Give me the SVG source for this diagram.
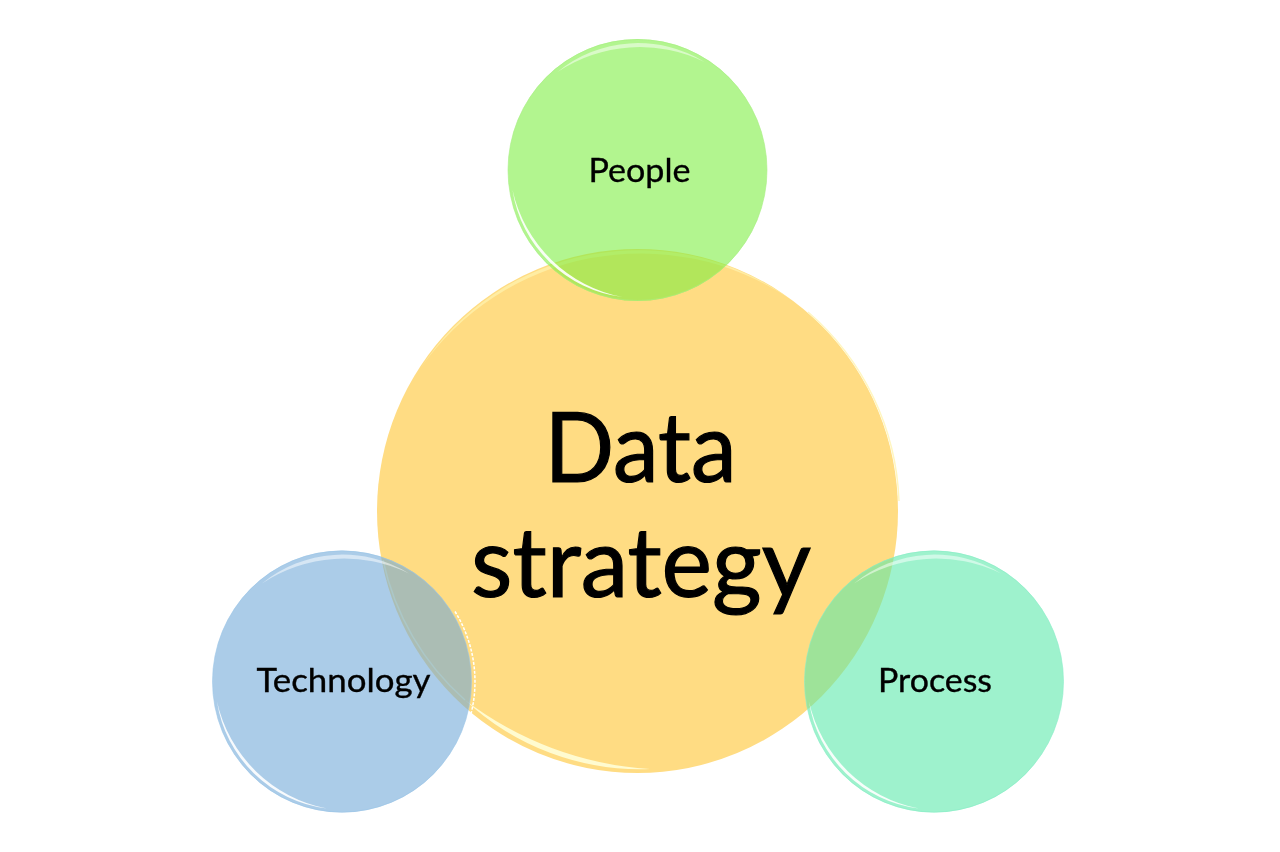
<svg xmlns="http://www.w3.org/2000/svg" width="1280" height="852" viewBox="0 0 1280 852">
<defs>
<filter id="soft" x="-10%" y="-10%" width="120%" height="120%"><feGaussianBlur stdDeviation="0.6"/></filter>
<path id="low" d="M-125 20A127 127 0 0 0 -15 127A140 140 0 0 1 -125 20Z"/>
<path id="top" d="M-80 -98A126.500 126.500 0 0 1 67 -108A148 148 0 0 0 -80 -98Z"/>
<path id="right" d="M113 -70A133 133 0 0 1 122 53"/>
</defs>
<style>
.t{font-family:Lato,"Noto Sans","Liberation Sans",sans-serif;fill:#000;text-anchor:middle;stroke:#000}
.s{font-size:32px;stroke-width:.35px}
.b{font-size:96px;stroke-width:1.2px}
.fill{opacity:.58}
.edge{fill:none;stroke-width:1;opacity:.6}
.lo{fill:#fff;opacity:.9;filter:url(#soft)}
.up{fill:#fff;opacity:.5;filter:url(#soft)}
.rg{fill:none;stroke:#fff;stroke-width:1.500;stroke-dasharray:3 1.500}
</style>
<rect width="1280" height="852" fill="#fff"/>
<g id="connectors"/>
<g id="node-data-strategy">
<ellipse cx="637.500" cy="511" rx="260.500" ry="262" fill="#ffdc83"/>
<g transform="translate(638 511)" filter="url(#soft)">
<path fill="#fff4b0" opacity=".7" d="M-218 -142A260 260 0 0 1 152 -212A268 268 0 0 0 -218 -142Z"/>
<path fill="#fffbd0" d="M-173 189A256 256 0 0 0 12 258A341 341 0 0 1 -173 189Z"/>
<path fill="none" stroke="#fff6b8" stroke-width="1.500" opacity=".85" d="M-255 49A259 259 0 0 0 -173 189"/>
<path fill="none" stroke="#fff6c0" stroke-width="1.500" d="M170 -199A262 262 0 0 1 261 -10"/>
</g>
<text class="t b" x="640.500" y="482" textLength="192" lengthAdjust="spacingAndGlyphs">Data</text>
<text class="t b" x="641" y="597" textLength="340" lengthAdjust="spacingAndGlyphs">strategy</text>
</g>
<g id="node-people" transform="translate(637.500 170)">
<ellipse rx="129.500" ry="131" fill="#7aee3e" class="fill"/>
<ellipse rx="129.500" ry="130.500" class="edge" stroke="#a8ee84"/>
<use href="#low" class="lo"/>
<use href="#top" class="up"/>
<use href="#right" class="rg" stroke-opacity=".9"/>
<text class="t s" x="2" y="11.500" textLength="102" lengthAdjust="spacingAndGlyphs">People</text>
</g>
<g id="node-technology" transform="translate(342 681.500)">
<ellipse rx="129.500" ry="131" fill="#6ea7d7" class="fill"/>
<ellipse rx="129.500" ry="130.500" class="edge" stroke="#9cc6e8"/>
<use href="#low" class="lo"/>
<use href="#top" class="up"/>
<use href="#right" class="rg"/>
<text class="t s" x="1.500" y="10.500" textLength="174" lengthAdjust="spacingAndGlyphs">Technology</text>
</g>
<g id="node-process" transform="translate(934 681.500)">
<ellipse rx="129.500" ry="131" fill="#58e9a9" class="fill"/>
<ellipse rx="129.500" ry="130.500" class="edge" stroke="#8aecc8"/>
<use href="#low" class="lo"/>
<use href="#top" class="up"/>
<use href="#right" class="rg"/>
<text class="t s" x="1" y="10.500" textLength="114" lengthAdjust="spacingAndGlyphs">Process</text>
</g>
</svg>
